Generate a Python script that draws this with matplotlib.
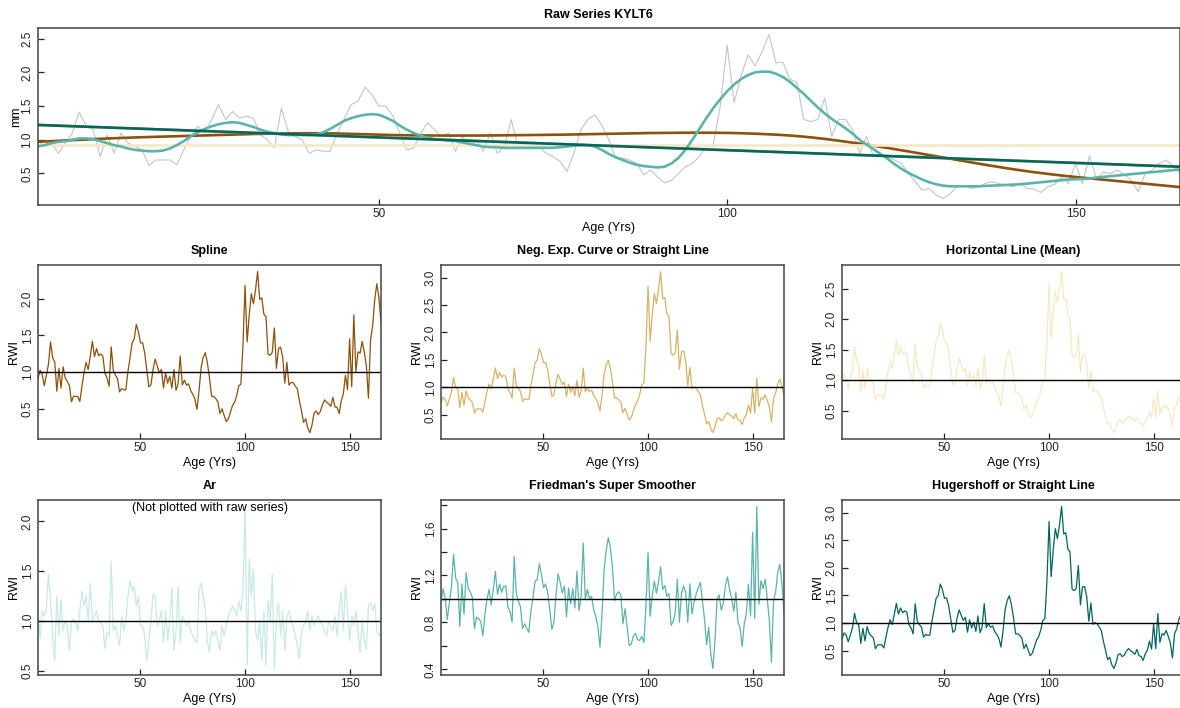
import numpy as np
import matplotlib.pyplot as plt
from matplotlib.ticker import MultipleLocator, FuncFormatter

plt.rcParams['font.family'] = ['Liberation Sans', 'DejaVu Sans']

series_name = 'KYLT6'
age = np.arange(1, 166)

raw_mm = [
    0.88, 1.00, 0.95, 0.80, 0.95, 1.10, 1.41, 1.20, 1.15, 0.75,
    1.07, 0.80, 1.10, 0.95, 0.90, 0.85, 0.62, 0.70, 0.70, 0.70,
    0.63, 0.85, 1.05, 1.20, 1.10, 1.30, 1.52, 1.30, 1.42, 1.32,
    1.35, 1.32, 1.07, 1.00, 0.88, 1.47, 1.12, 1.05, 1.00, 0.80,
    0.85, 0.83, 0.83, 1.10, 1.30, 1.52, 1.57, 1.78, 1.67, 1.50,
    1.50, 1.35, 1.10, 0.85, 0.88, 1.10, 1.25, 1.15, 1.05, 1.10,
    0.83, 1.05, 0.90, 1.00, 0.83, 1.10, 0.80, 0.90, 1.30, 0.88,
    0.95, 0.88, 0.90, 0.80, 0.75, 0.68, 0.53, 0.80, 1.15, 1.30,
    1.37, 1.22, 1.00, 0.73, 0.73, 0.70, 0.65, 0.48, 0.55, 0.45,
    0.36, 0.40, 0.50, 0.60, 0.65, 0.75, 0.90, 0.92, 1.50, 2.40,
    1.55, 1.95, 2.26, 2.10, 2.30, 2.56, 2.14, 2.15, 1.90, 1.85,
    1.30, 1.27, 1.30, 1.62, 1.05, 1.30, 1.30, 1.15, 0.80, 1.05,
    0.75, 0.77, 0.75, 0.70, 0.65, 0.50, 0.38, 0.25, 0.28, 0.18,
    0.13, 0.20, 0.31, 0.32, 0.28, 0.30, 0.35, 0.38, 0.35, 0.33,
    0.30, 0.36, 0.28, 0.27, 0.22, 0.30, 0.34, 0.45, 0.35, 0.65,
    0.35, 0.76, 0.42, 0.52, 0.50, 0.55, 0.48, 0.40, 0.23, 0.50,
    0.55, 0.65, 0.70, 0.62, 0.50,
]

# fitted curves (brown = spline, teal = super smoother)
spline_curve = [
    0.970, 0.975, 0.980, 0.985, 0.990, 0.995, 1.000, 1.005, 1.010, 1.015,
    1.019, 1.023, 1.027, 1.031, 1.035, 1.038, 1.041, 1.044, 1.047, 1.050,
    1.053, 1.056, 1.059, 1.062, 1.065, 1.068, 1.071, 1.074, 1.077, 1.080,
    1.083, 1.086, 1.088, 1.090, 1.092, 1.094, 1.095, 1.096, 1.097, 1.097,
    1.097, 1.096, 1.095, 1.093, 1.090, 1.087, 1.084, 1.081, 1.078, 1.075,
    1.072, 1.070, 1.068, 1.066, 1.065, 1.064, 1.063, 1.062, 1.062, 1.062,
    1.062, 1.062, 1.062, 1.062, 1.063, 1.064, 1.065, 1.066, 1.067, 1.068,
    1.069, 1.070, 1.071, 1.072, 1.073, 1.075, 1.077, 1.079, 1.081, 1.083,
    1.085, 1.087, 1.089, 1.091, 1.093, 1.095, 1.097, 1.099, 1.100, 1.101,
    1.102, 1.103, 1.104, 1.105, 1.105, 1.105, 1.105, 1.104, 1.103, 1.102,
    1.100, 1.097, 1.094, 1.090, 1.086, 1.081, 1.076, 1.070, 1.063, 1.055,
    1.046, 1.036, 1.025, 1.013, 1.000, 0.986, 0.972, 0.958, 0.943, 0.928,
    0.912, 0.896, 0.879, 0.862, 0.845, 0.827, 0.809, 0.791, 0.773, 0.755,
    0.737, 0.719, 0.701, 0.683, 0.665, 0.647, 0.630, 0.613, 0.596, 0.580,
    0.564, 0.549, 0.534, 0.520, 0.507, 0.494, 0.482, 0.470, 0.459, 0.448,
    0.438, 0.428, 0.418, 0.408, 0.398, 0.388, 0.378, 0.368, 0.358, 0.348,
    0.338, 0.328, 0.318, 0.308, 0.298,
]

friedman_curve = [
    0.90, 0.92, 0.95, 0.97, 0.98, 1.00, 1.02, 1.02, 1.01, 0.98,
    0.95, 0.92, 0.90, 0.87, 0.85, 0.84, 0.83, 0.83, 0.84, 0.87,
    0.92, 0.98, 1.05, 1.11, 1.16, 1.20, 1.23, 1.25, 1.26, 1.25,
    1.22, 1.19, 1.15, 1.12, 1.10, 1.08, 1.07, 1.07, 1.07, 1.07,
    1.08, 1.11, 1.16, 1.22, 1.28, 1.32, 1.35, 1.37, 1.38, 1.37,
    1.33, 1.28, 1.21, 1.15, 1.10, 1.06, 1.03, 1.01, 1.00, 0.99,
    0.98, 0.96, 0.94, 0.92, 0.90, 0.89, 0.89, 0.88, 0.88, 0.88,
    0.88, 0.88, 0.88, 0.88, 0.88, 0.89, 0.90, 0.91, 0.92, 0.92,
    0.90, 0.85, 0.79, 0.74, 0.70, 0.66, 0.63, 0.61, 0.60, 0.59,
    0.60, 0.65, 0.73, 0.85, 1.00, 1.16, 1.32, 1.47, 1.60, 1.72,
    1.82, 1.90, 1.96, 2.00, 2.01, 2.01, 1.98, 1.93, 1.86, 1.77,
    1.68, 1.58, 1.48, 1.39, 1.31, 1.24, 1.17, 1.09, 1.00, 0.93,
    0.86, 0.79, 0.72, 0.64, 0.57, 0.51, 0.46, 0.41, 0.37, 0.34,
    0.32, 0.31, 0.31, 0.31, 0.31, 0.31, 0.315, 0.32, 0.325, 0.33,
    0.335, 0.34, 0.35, 0.36, 0.37, 0.38, 0.39, 0.40, 0.41, 0.415,
    0.42, 0.425, 0.44, 0.45, 0.46, 0.47, 0.48, 0.49, 0.50, 0.51,
    0.52, 0.53, 0.54, 0.55, 0.56,
]

# straight line fit (used by both Neg. Exp. and Hugershoff), read at its ends
line_fit_ends = [1.22, 0.60]
mean_level = 0.92

# Ar detrended index
ar_rwi = [
    1.15, 0.82, 1.10, 1.05, 1.12, 1.47, 1.20, 0.85, 0.60, 1.25,
    0.85, 1.22, 0.90, 1.00, 0.95, 0.70, 1.00, 1.02, 0.98, 0.90,
    1.10, 1.30, 1.15, 1.25, 1.00, 1.38, 1.00, 1.05, 1.10, 1.00,
    0.98, 0.95, 0.72, 0.88, 0.85, 1.60, 0.90, 0.95, 0.85, 0.75,
    1.05, 0.90, 1.00, 1.25, 1.40, 1.30, 1.35, 1.15, 1.25, 0.95,
    0.95, 0.85, 0.60, 0.80, 1.00, 1.27, 1.25, 0.95, 1.00, 1.10,
    0.78, 1.10, 0.80, 1.00, 1.33, 0.70, 0.90, 1.35, 0.78, 1.05,
    1.00, 0.95, 1.00, 0.90, 0.85, 0.80, 0.78, 1.30, 1.38, 1.25,
    1.10, 0.80, 0.68, 0.90, 0.85, 0.90, 0.80, 0.70, 0.95, 0.85,
    0.95, 1.05, 1.10, 1.15, 1.10, 1.05, 1.20, 1.10, 1.30, 2.15,
    0.55, 1.62, 1.25, 1.52, 0.90, 0.80, 1.00, 0.60, 1.10, 0.55,
    1.20, 1.00, 1.47, 0.52, 1.00, 1.18, 0.85, 1.10, 0.70, 1.05,
    1.10, 1.00, 0.95, 0.85, 0.75, 0.62, 0.90, 0.95, 1.00, 1.10,
    0.90, 1.05, 0.95, 1.00, 1.05, 1.00, 0.95, 0.90, 0.85, 1.00,
    0.95, 0.90, 1.05, 0.85, 1.10, 1.30, 0.90, 1.35, 1.10, 0.80,
    1.05, 0.95, 1.10, 0.90, 0.68, 1.00, 0.80, 0.72, 1.15, 1.18,
    1.10, 1.17, 0.90, 0.85, 0.88,
]

panel_titles = ['Spline', 'Neg. Exp. Curve or Straight Line', 'Horizontal Line (Mean)',
                'Ar', "Friedman's Super Smoother", 'Hugershoff or Straight Line']
colors = ['#8C510A', '#D8B365', '#F6E8C3', '#C7EAE5', '#5AB4AC', '#01665E']

raw = np.array(raw_mm)
spline = np.array(spline_curve)
friedman = np.array(friedman_curve)
straight = np.linspace(line_fit_ends[0], line_fit_ends[1], len(age))
mean_line = np.full(len(age), mean_level)

rwi = [raw / spline, raw / straight, raw / mean_line,
       np.array(ar_rwi), raw / friedman, raw / straight]

W, H = 1180, 708
fig = plt.figure(figsize=(W / 100, H / 100), dpi=100)


def box(l, t, r, b):
    return fig.add_axes([l / W, 1 - b / H, (r - l) / W, (b - t) / H])


def style(ax):
    for s in ax.spines.values():
        s.set_color('#444444')
        s.set_linewidth(1.1)
    ax.tick_params(direction='in', length=4.5, width=0.9, color='#222222',
                   labelsize=8.5, labelcolor='#222222')
    ax.tick_params(axis='x', pad=2)
    ax.tick_params(axis='y', pad=3, labelrotation=90)
    for lab in ax.get_yticklabels():
        lab.set_va('center')
    ax.margins(x=0, y=0.04)
    ax.set_xticks([50, 100, 150])


# top panel: raw series with all curves
top = box(37.5, 28, 1180, 205)
top.plot(age, raw, color='#C4C4C4', lw=0.8)
top.plot(age, spline, color=colors[0], lw=1.9)
top.plot(age, straight, color=colors[1], lw=1.9)
top.plot(age, mean_line, color=colors[2], lw=1.9)
top.plot(age, friedman, color=colors[4], lw=1.9)
top.plot(age, straight, color=colors[5], lw=1.9)
style(top)
top.yaxis.set_major_locator(MultipleLocator(0.5))
top.set_xlabel('Age (Yrs)', fontsize=9)
top.set_ylabel('mm', fontsize=9)
top.xaxis.set_label_coords(0.5, -23 / 177)
top.xaxis.label.set_va('center')
top.yaxis.set_label_coords(-21 / 1142, 0.5)
top.yaxis.label.set_va('center')
fig.text(598 / W, 1 - 15 / H, 'Raw Series ' + series_name, ha='center', va='center',
         fontsize=9, fontweight='bold')

lefts = [38, 441, 842]
rows = [(265, 439), (500, 675)]
for i in range(6):
    r, c = divmod(i, 3)
    t, b = rows[r]
    ax = box(lefts[c], t, lefts[c] + 343, b)
    ax.plot(age, rwi[i], color=colors[i], lw=0.9)
    ax.axhline(1, color='black', lw=1.0)
    style(ax)
    if i == 4:
        ax.yaxis.set_major_locator(MultipleLocator(0.2))
        ax.yaxis.set_major_formatter(FuncFormatter(
            lambda v, p: '%.1f' % v if round(v / 0.2) % 2 == 0 else ''))
    else:
        ax.yaxis.set_major_locator(MultipleLocator(0.5))
    ax.set_xlabel('Age (Yrs)', fontsize=9)
    ax.set_ylabel('RWI', fontsize=9)
    ax.xaxis.set_label_coords(0.5, -24 / (b - t))
    ax.xaxis.label.set_va('center')
    ax.yaxis.set_label_coords(-24 / 343, 0.5)
    ax.yaxis.label.set_va('center')
    ax.text(0.5, 1 + 14 / (b - t), panel_titles[i], transform=ax.transAxes,
            ha='center', va='center', fontsize=9, fontweight='bold')
    if i == 3:
        ax.text(0.5, 1 - 8 / (b - t), '(Not plotted with raw series)',
                transform=ax.transAxes, ha='center', va='center', fontsize=9)

fig.savefig('out.png', dpi=100)
